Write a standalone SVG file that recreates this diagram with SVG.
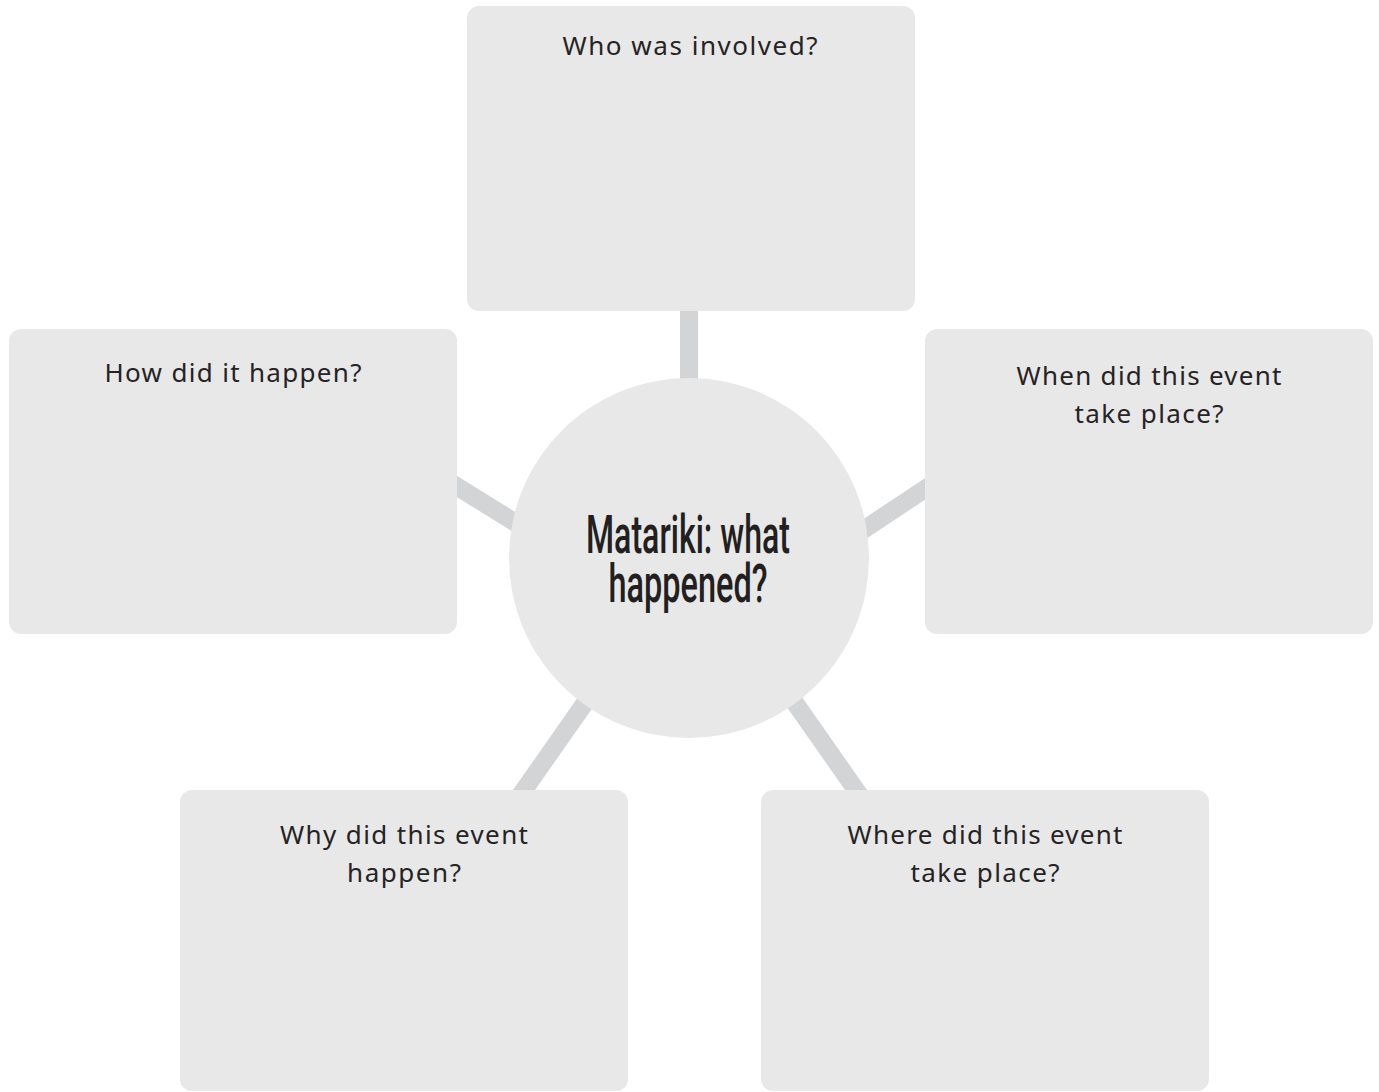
<svg xmlns="http://www.w3.org/2000/svg" width="1379" height="1092" viewBox="0 0 1379 1092">
<style>
.box{fill:#e8e8e8}
.conn{stroke:#d3d4d6;stroke-width:18;fill:none}
.lbl{font-family:"Noto Sans","Open Sans","Liberation Sans",sans-serif;font-weight:400;font-size:26px;fill:#262324;text-anchor:middle}
.title{font-family:"Roboto","Liberation Sans",sans-serif;font-weight:500;font-size:54px;fill:#231f20;text-anchor:middle}
</style>
<rect width="1379" height="1092" fill="#ffffff"/>
<g id="connectors">
<line class="conn" x1="689" y1="300" x2="689" y2="392"/>
<line class="conn" x1="440" y1="476" x2="540" y2="538"/>
<line class="conn" x1="940" y1="479" x2="845" y2="542"/>
<line class="conn" x1="517" y1="800" x2="594" y2="690"/>
<line class="conn" x1="863" y1="800" x2="786" y2="690"/>
</g>
<g id="node-center">
<circle class="box" cx="689" cy="558" r="180"/>
<text class="title" x="688" y="553" textLength="204" lengthAdjust="spacingAndGlyphs">Matariki: what</text>
<text class="title" x="688" y="602" textLength="159" lengthAdjust="spacingAndGlyphs">happened?</text>
</g>
<g id="node-who">
<rect class="box" x="467" y="6" width="448" height="305" rx="12"/>
<text class="lbl" x="690" y="55" textLength="255" lengthAdjust="spacing">Who was involved?</text>
</g>
<g id="node-how">
<rect class="box" x="9" y="329" width="448" height="305" rx="12"/>
<text class="lbl" x="233" y="382" textLength="257" lengthAdjust="spacing">How did it happen?</text>
</g>
<g id="node-when">
<rect class="box" x="925" y="329" width="448" height="305" rx="12"/>
<text class="lbl" x="1149" y="385" textLength="265" lengthAdjust="spacing">When did this event</text>
<text class="lbl" x="1149" y="423" textLength="149" lengthAdjust="spacing">take place?</text>
</g>
<g id="node-why">
<rect class="box" x="180" y="790" width="448" height="301" rx="12"/>
<text class="lbl" x="404" y="844" textLength="248" lengthAdjust="spacing">Why did this event</text>
<text class="lbl" x="404" y="882" textLength="114" lengthAdjust="spacing">happen?</text>
</g>
<g id="node-where">
<rect class="box" x="761" y="790" width="448" height="301" rx="12"/>
<text class="lbl" x="985" y="844" textLength="275" lengthAdjust="spacing">Where did this event</text>
<text class="lbl" x="985" y="882" textLength="149" lengthAdjust="spacing">take place?</text>
</g>
</svg>
